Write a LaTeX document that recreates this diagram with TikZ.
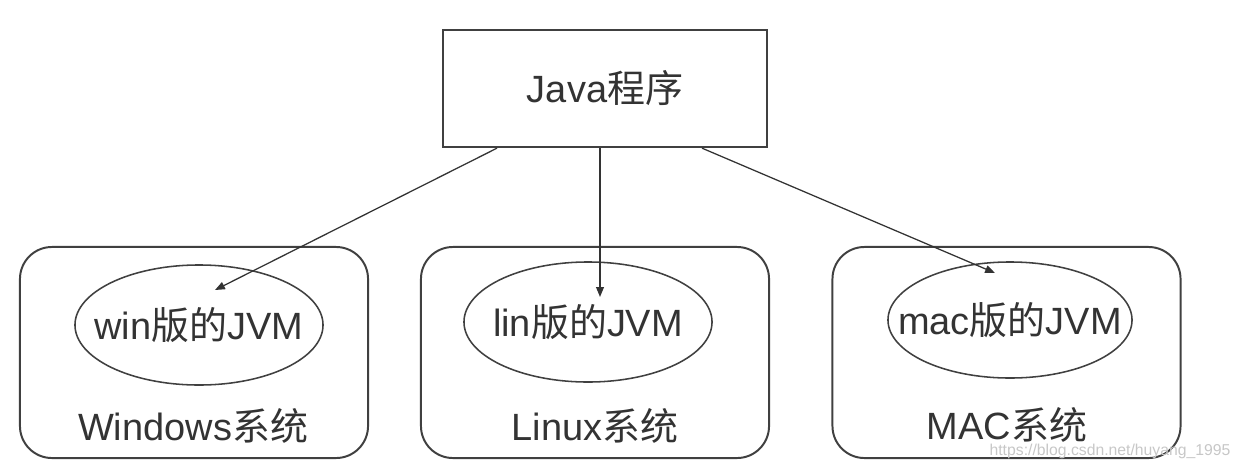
\documentclass[tikz,border=0pt]{standalone}
\usepackage{fontspec}
\setmainfont{Liberation Sans}
\newfontfamily\cjk{Noto Sans CJK SC}
\usepackage{tikz}
\usetikzlibrary{calc}
\usetikzlibrary{shapes.geometric,arrows.meta}

\begin{document}
\begin{tikzpicture}[x=0.025cm,y=-0.025cm]
		\tikzset{every node/.style={text=black!80,font=\fontsize{27}{32}\selectfont}}
		\tikzset{progbox/.style={draw=black!75,line width=1.6pt,minimum width=8.1cm,minimum height=2.925cm}}
		\tikzset{osbox/.style={draw=black!75,line width=1.4pt,rounded corners=0.8cm,minimum width=8.7cm,minimum height=5.275cm}}
		\tikzset{osname/.style={inner sep=0pt}}
		\tikzset{jvmnode/.style={draw=black!75,line width=1.1pt,ellipse,minimum width=6.2cm,minimum height=3cm}}
		\useasboundingbox (0,0) rectangle (1241,468);
		\node (java) at (605,88.5) [progbox] {Java{\cjk 程序}};
		
		\node (winos) at (194,352.5) [osbox] {};
		\node (linos) at (595,352.5) [osbox] {};
		\node (macos) at (1006.5,352.5) [osbox] {};
		\node (winname) at (193,426) [osname] {Windows{\cjk 系统}};
		\node (linname) at (595,426) [osname] {Linux{\cjk 系统}};
		\node (macname) at (1007,425) [osname] {MAC{\cjk 系统}};
		
		\node (winjvm) at (199,325) [jvmnode,label=center:{win{\cjk 版的}JVM}] {};
		\node (linjvm) at (588,322) [jvmnode,label=center:{lin{\cjk 版的}JVM}] {};
		\node (macjvm) at (1010,320) [jvmnode,minimum width=6.1cm,minimum height=2.9cm,label=center:{mac{\cjk 版的}JVM}] {};
		
		\coordinate (wintip) at (215,290);
		\coordinate (lintip) at (600,297);
		\coordinate (mactip) at (995,273);
		
		\path
		($(java.south)+(-108,0)$)  edge [-{Triangle[length=7pt,width=5.5pt]}, black!80, line width=0.9pt] (wintip)
		($(java.south)+(-5,0)$)  edge [-{Triangle[length=7pt,width=5.5pt]}, black!80, line width=0.9pt] (lintip)
		($(java.south)+(97,0)$)  edge [-{Triangle[length=7pt,width=5.5pt]}, black!80, line width=0.9pt] (mactip);
		
		\node (mark) at (1110,451) [inner sep=0pt,text=black!22,font=\fontsize{11.2}{13}\selectfont] {https://blog.csdn.net/huyang\_1995};
	\end{tikzpicture}
\end{document}
